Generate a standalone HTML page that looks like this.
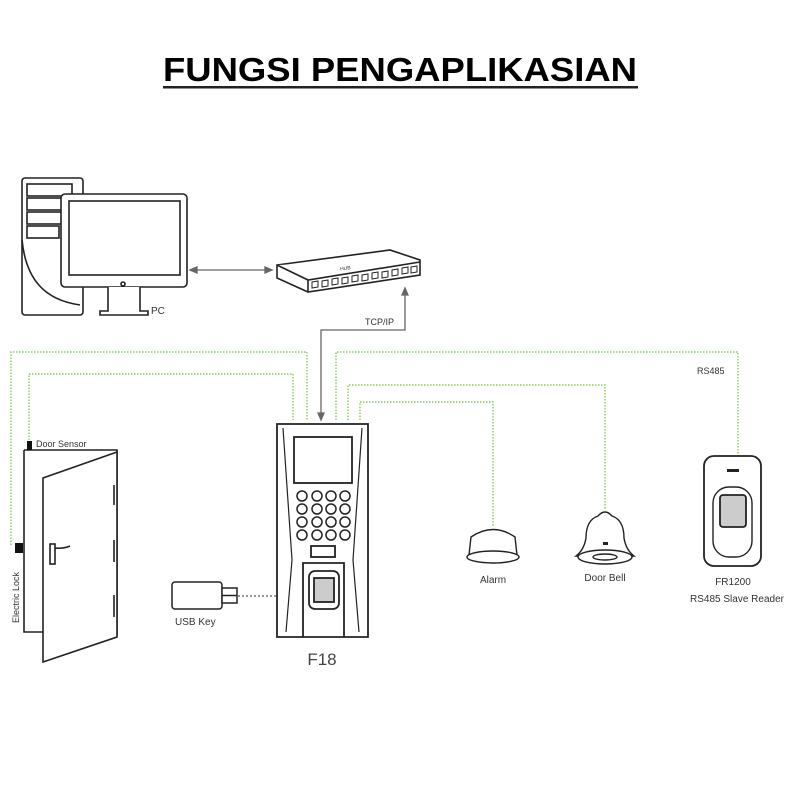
<!DOCTYPE html>
<html><head><meta charset="utf-8"><style>body{margin:0;background:#fff}svg{display:block}</style></head>
<body>
<svg width="800" height="800" viewBox="0 0 800 800" xmlns="http://www.w3.org/2000/svg" font-family="Liberation Sans, sans-serif">
<rect width="800" height="800" fill="#fff"/>
<text x="163" y="81" font-size="33" font-weight="bold" textLength="474" lengthAdjust="spacingAndGlyphs">FUNGSI PENGAPLIKASIAN</text>
<rect x="163" y="86" width="475" height="2.5" fill="#222"/>

<g fill="none" stroke="#222" stroke-width="1.6">
<!-- tower -->
<rect x="22" y="178" width="61" height="137" rx="3" fill="#fff"/>
<rect x="27" y="184" width="45" height="12"/><rect x="27" y="198" width="45" height="12"/><rect x="27" y="212" width="45" height="12"/><rect x="27" y="226" width="32" height="12"/>
<path d="M22 240 C 26 280, 45 300, 80 305"/>
<!-- monitor -->
<rect x="61" y="194" width="126" height="93" rx="4" fill="#fff"/>
<rect x="69" y="201" width="111" height="74"/>
<circle cx="123" cy="284" r="2"/>
<path d="M108 287 v24 h-8 v4 h48 v-4 h-8 v-24" fill="#fff"/>
</g>
<text x="151" y="314" font-size="10" fill="#333">PC</text>
<!-- PC-hub arrow -->
<g stroke="#666" stroke-width="1.3" fill="#666">
<line x1="195" y1="270" x2="267" y2="270"/>
<path d="M190 270 l7 -3 v6z"/><path d="M272 270 l-7 -3 v6z"/>
<!-- TCP/IP -->
<path d="M405 295 V330 H321 V413" fill="none"/>
<path d="M405 288 l-3 7 h6z"/><path d="M321 420 l-3 -7 h6z"/>
</g>
<text x="365" y="325" font-size="9" fill="#333">TCP/IP</text>
<!-- hub -->
<g stroke="#222" stroke-width="1.6" fill="#fff">
<path d="M277 265 L390 250 L420 260 L420 275 L308 292 L277 278 Z"/>
<path d="M277 265 L308 280 L420 262 M308 280 V292"/>
</g>
<g stroke="#222" stroke-width="1" fill="none">
<path d="M312 282 l6 -1 v6 l-6 1z M322 281 l6 -1 v6 l-6 1z M332 279 l6 -1 v6 l-6 1z M342 278 l6 -1 v6 l-6 1z M352 276 l6 -1 v6 l-6 1z M362 275 l6 -1 v6 l-6 1z M372 273 l6 -1 v6 l-6 1z M382 272 l6 -1 v6 l-6 1z M392 270 l6 -1 v6 l-6 1z M402 268 l6 -1 v6 l-6 1z M411 267 l6 -1 v6 l-6 1z"/>
</g>
<text x="340" y="270" font-size="5" fill="#333" transform="rotate(-8 345 268)">HUB</text>

<!-- green dotted -->
<g fill="none" stroke="#8c5" stroke-width="1.4" stroke-dasharray="1.5 1.5">
<path d="M11 545 V352 H307 V420"/>
<path d="M29 440 V374 H293 V420"/>
<path d="M336 420 V352 H738 V455"/>
<path d="M348 420 V385 H605 V510"/>
<path d="M360 420 V402 H493 V527"/>
</g>
<text x="697" y="374" font-size="9" fill="#333">RS485</text>

<!-- door -->
<g stroke="#222" stroke-width="1.6" fill="#fff">
<path d="M24 450 H117 V636 M24 450 V632 H43" fill="none"/>
<path d="M43 478 L117 452 L117 637 L43 662 Z"/>
<path d="M114 485 v20 M114 540 v22 M114 595 v22"/>
<rect x="50" y="544" width="5" height="20"/>
<path d="M55 548 q8 1 15 -2"/>
</g>
<rect x="27" y="441" width="5" height="9" fill="#111"/>
<rect x="15" y="543" width="8" height="10" fill="#111"/>
<text x="36" y="447" font-size="9" fill="#333">Door Sensor</text>
<text transform="translate(19 623) rotate(-90)" font-size="9" fill="#333">Electric Lock</text>

<!-- USB -->
<g stroke="#222" stroke-width="1.5" fill="#fff">
<rect x="172" y="582" width="50" height="27" rx="3"/>
<rect x="222" y="588" width="15" height="15"/>
<path d="M222 595.5 h15"/>
</g>
<line x1="238" y1="596" x2="276" y2="596" stroke="#333" stroke-dasharray="2 2"/>
<text x="175" y="625" font-size="10" fill="#333">USB Key</text>

<!-- F18 -->
<g stroke="#222" stroke-width="1.8" fill="#fff">
<path d="M277 424 H368 V637 H277 Z"/>
<path d="M283 428 L292 560 L286 632 M362 428 L353 560 L359 632" fill="none" stroke-width="1.2"/>
<rect x="294" y="437" width="58" height="46"/>
<rect x="311" y="546" width="24" height="11"/>
<path d="M303 637 V563 H344 V637" fill="none"/>
<rect x="309" y="571" width="30" height="38" rx="6"/>
<rect x="314" y="578" width="20" height="24" fill="#ccc"/>
</g>
<g stroke="#222" stroke-width="1.5" fill="#fff">
<circle cx="302" cy="496" r="5"/><circle cx="317" cy="496" r="5"/><circle cx="331" cy="496" r="5"/><circle cx="345" cy="496" r="5"/>
<circle cx="302" cy="509" r="5"/><circle cx="317" cy="509" r="5"/><circle cx="331" cy="509" r="5"/><circle cx="345" cy="509" r="5"/>
<circle cx="302" cy="522" r="5"/><circle cx="317" cy="522" r="5"/><circle cx="331" cy="522" r="5"/><circle cx="345" cy="522" r="5"/>
<circle cx="302" cy="535" r="5"/><circle cx="317" cy="535" r="5"/><circle cx="331" cy="535" r="5"/><circle cx="345" cy="535" r="5"/>
</g>
<text x="322" y="665" font-size="17" fill="#444" text-anchor="middle">F18</text>

<!-- alarm -->
<g stroke="#222" stroke-width="1.4" fill="#fff">
<path d="M469 555 L471 537 Q493 522 515 537 L517 555 Z"/>
<ellipse cx="493" cy="557" rx="26" ry="6"/>
</g>
<text x="493" y="583" font-size="10" fill="#333" text-anchor="middle">Alarm</text>
<!-- bell -->
<g stroke="#222" stroke-width="1.4" fill="#fff">
<path d="M598 516 Q605 508 612 516 Q624 520 624 538 Q626 550 634 556 L576 556 Q584 550 586 538 Q586 520 598 516 Z"/>
<ellipse cx="605" cy="557" rx="27" ry="7"/>
<ellipse cx="605" cy="557" rx="12" ry="3"/>
</g>
<rect x="603" y="542" width="5" height="3" fill="#222"/>
<text x="605" y="581" font-size="10" fill="#333" text-anchor="middle">Door Bell</text>
<!-- reader -->
<g stroke="#222" stroke-width="1.8" fill="#fff">
<rect x="704" y="456" width="57" height="110" rx="10"/>
<rect x="713" y="487" width="39" height="70" rx="16" stroke-width="1.4"/>
<rect x="720" y="495" width="26" height="32" rx="3" fill="#ccc"/>
</g>
<rect x="727" y="469" width="12" height="3" fill="#222"/>
<text x="733" y="585" font-size="10" fill="#333" text-anchor="middle">FR1200</text>
<text x="737" y="602" font-size="10" fill="#333" text-anchor="middle">RS485 Slave Reader</text>
</svg>
</body></html>
